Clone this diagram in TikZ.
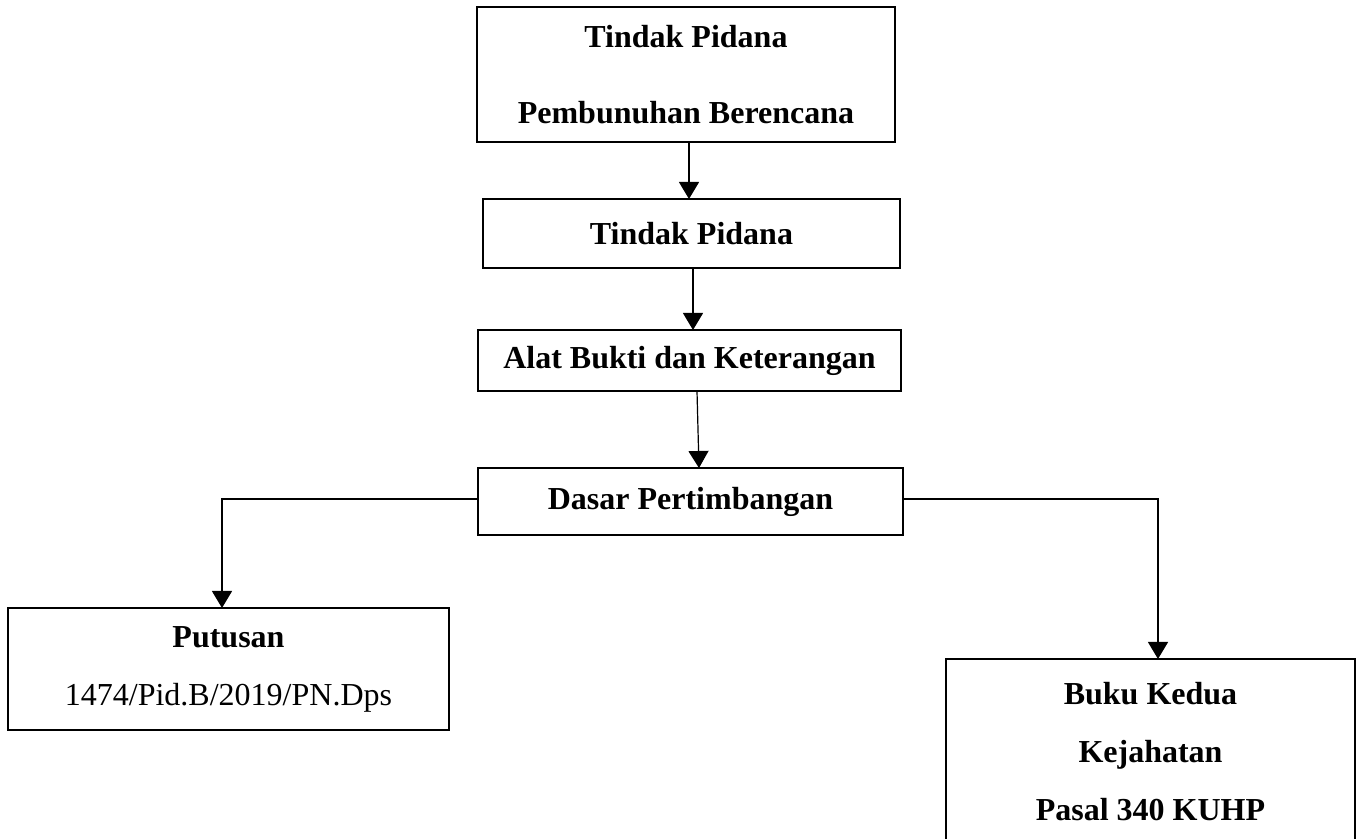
\documentclass[tikz,border=0pt]{standalone}
\usepackage{fontspec}
\setmainfont{Liberation Serif}
\usetikzlibrary{arrows.meta, positioning}

\tikzset{
  flowbox/.style={
    draw=black, line width=0.7pt, fill=white,
    inner sep=0pt, outer sep=0pt, align=center,
    font=\fontsize{16}{29}\selectfont\bfseries
  },
  flowarrow/.style={
    -{Triangle[length=8.5pt,width=10pt]},
    draw=black, line width=0.6pt
  },
}

\begin{document}
\begin{tikzpicture}[x=0.5pt, y=-0.5pt]
  \useasboundingbox (0,0) rectangle (1357,839);

  %% Main chain
  \node[flowbox, minimum width=209pt, minimum height=67.5pt] (crime) at (686,74.5)
    {Tindak Pidana\\[9pt]Pembunuhan Berencana};
  \node[flowbox, minimum width=208.5pt, minimum height=34.5pt,
    below=28.5pt of crime, xshift=2.75pt] (tp)
    {Tindak Pidana};
  \node[flowbox, minimum width=211.5pt, minimum height=30.5pt,
    below=31pt of tp, xshift=-1pt] (bukti)
    {Alat Bukti dan Keterangan};
  \node[flowbox, minimum width=212.5pt, minimum height=33.5pt,
    below=38.5pt of bukti, xshift=0.5pt] (dasar)
    {Dasar Pertimbangan};

  %% Outcomes
  \node[flowbox, minimum width=220.5pt, minimum height=61pt] (putusan) at (228.5,669)
    {Putusan\\{\mdseries 1474/Pid.B/2019/PN.Dps}};
  \node[flowbox, minimum width=204.5pt, minimum height=93pt] (buku) at (1150.5,752)
    {Buku Kedua\\Kejahatan\\Pasal 340 KUHP};

  %% Arrows
  \draw[flowarrow] ([xshift=1.5pt]crime.south) -- ([xshift=1.5pt]crime.south |- tp.north);
  \draw[flowarrow] ([xshift=0.75pt]tp.south) -- ([xshift=0.75pt]tp.south |- bukti.north);
  \draw[flowarrow] ([xshift=3.75pt]bukti.south) -- ([xshift=4.25pt]dasar.north);
  \draw[flowarrow] ([yshift=1.25pt]dasar.west) -| ([xshift=-3.25pt]putusan.north);
  \draw[flowarrow] ([yshift=1.25pt]dasar.east) -| ([xshift=3.75pt]buku.north);

\end{tikzpicture}
\end{document}
